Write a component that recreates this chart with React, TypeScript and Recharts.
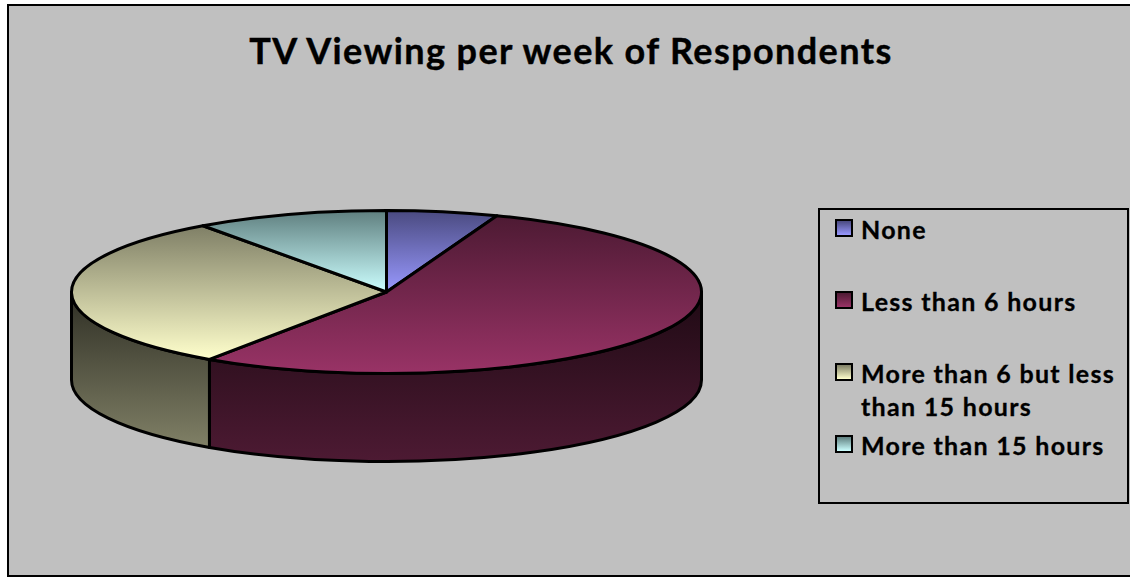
import { PieChart, Pie, Legend } from "recharts";

const categories = ["None", "Less than 6 hours", "More than 6 but less than 15 hours", "More than 15 hours"];
const shares = [5.7, 53.8, 30.6, 9.9];

const topDark = ["#4a4a80", "#4d1a33", "#7f7f66", "#5f7f7f"];
const topLight = ["#9999ff", "#993366", "#ffffcc", "#ccffff"];
const sideDark = ["#26264d", "#1f0a14", "#2e2e24", "#2e4040"];
const sideLight = ["#4a4a80", "#4d1a33", "#808066", "#5f7f7f"];

const FONT = "Lato, sans-serif";
const Y_RATIO = 81.5 / 315;
const DEPTH = 88;

const tableTop = categories.map((name, i) => ({ name, value: shares[i], fill: `url(#top${i})` }));
const tableSide = categories.map((name, i) => ({ name, value: shares[i], fill: `url(#side${i})` }));

function point(p: any, deg: number, dy = 0) {
  const a = (deg * Math.PI) / 180;
  const x = p.cx + p.outerRadius * Math.cos(a);
  const y = p.cy - p.outerRadius * Y_RATIO * Math.sin(a) + dy;
  return `${x} ${y}`;
}

function TopSlice(p: any) {
  const rx = p.outerRadius;
  const ry = rx * Y_RATIO;
  const large = p.startAngle - p.endAngle > 180 ? 1 : 0;
  const d = `M ${p.cx} ${p.cy} L ${point(p, p.startAngle)} A ${rx} ${ry} 0 ${large} 1 ${point(p, p.endAngle)} Z`;
  return <path d={d} fill={p.fill} stroke="#000" strokeWidth={3} strokeLinejoin="round" />;
}

// only the part of the rim on the lower half of the ellipse shows
function SideSlice(p: any) {
  const rx = p.outerRadius;
  const ry = rx * Y_RATIO;
  const s = Math.min(p.startAngle, 0);
  const e = Math.max(p.endAngle, -180);
  if (s <= e) return <g />;
  const d =
    `M ${point(p, s)} A ${rx} ${ry} 0 0 1 ${point(p, e)} ` +
    `L ${point(p, e, DEPTH)} A ${rx} ${ry} 0 0 0 ${point(p, s, DEPTH)} Z`;
  return <path d={d} fill={p.fill} stroke="#000" strokeWidth={3} strokeLinejoin="round" />;
}

function LegendBox({ payload }: any) {
  // both pies report their slices, keep each name once
  const names = categories.filter((c) => (payload || []).some((entry: any) => entry.value === c));
  return (
    <div style={{ boxSizing: "border-box", width: 311, height: 296, border: "2.5px solid #000", paddingTop: 8, fontFamily: FONT }}>
      {names.map((name, i) => (
        <div key={name} style={{ position: "relative", height: 72, paddingLeft: 41, paddingRight: 4 }}>
          <span
            style={{
              position: "absolute",
              left: 15,
              top: 1,
              width: 14,
              height: 14,
              border: "2.5px solid #000",
              background: `linear-gradient(${topDark[i]}, ${topLight[i]})`,
            }}
          />
          <span style={{ display: "block", position: "relative", top: -5, fontSize: 25, fontWeight: 700, letterSpacing: 1.3, lineHeight: "33px", color: "#000", WebkitTextStroke: "0.3px #000" }}>
            {name}
          </span>
        </div>
      ))}
    </div>
  );
}

export default function App() {
  return (
    <div style={{ position: "absolute", left: 0, top: 0, width: 1130, height: 577, overflow: "hidden", background: "#fff" }}>
      <div style={{ position: "absolute", left: 7, top: 4, width: 1140, height: 573, boxSizing: "border-box", border: "2.5px solid #000", background: "#c0c0c0" }} />
      <PieChart width={1130} height={577} margin={{ top: 0, right: 0, bottom: 0, left: 0 }} style={{ position: "absolute", left: 0, top: 0 }}>
        <defs>
          {categories.map((_, i) => (
            <linearGradient key={`top${i}`} id={`top${i}`} x1="0" y1="0" x2="0" y2="1">
              <stop offset="0%" stopColor={topDark[i]} />
              <stop offset="100%" stopColor={topLight[i]} />
            </linearGradient>
          ))}
          {categories.map((_, i) => (
            <linearGradient key={`side${i}`} id={`side${i}`} x1="0" y1="0" x2="0" y2="1">
              <stop offset="0%" stopColor={sideDark[i]} />
              <stop offset="100%" stopColor={sideLight[i]} />
            </linearGradient>
          ))}
        </defs>
        <text x={571} y={64} textAnchor="middle" fontFamily={FONT} fontSize={36} fontWeight={700} letterSpacing={1.4} fill="#000" stroke="#000" strokeWidth={0.4}>
          TV Viewing per week of Respondents
        </text>
        <Pie
          data={tableSide}
          dataKey="value"
          nameKey="name"
          cx={386.5}
          cy={292}
          outerRadius={315}
          startAngle={90}
          endAngle={-270}
          legendType="none"
          shape={(p: any) => <SideSlice {...p} />}
          isAnimationActive={false}
        />
        <Pie
          data={tableTop}
          dataKey="value"
          nameKey="name"
          cx={386.5}
          cy={292}
          outerRadius={315}
          startAngle={90}
          endAngle={-270}
          shape={(p: any) => <TopSlice {...p} />}
          isAnimationActive={false}
        />
        <Legend
          layout="vertical"
          content={<LegendBox />}
          wrapperStyle={{ position: "absolute", left: 818, top: 208, width: 311, height: 296 }}
        />
      </PieChart>
    </div>
  );
}
